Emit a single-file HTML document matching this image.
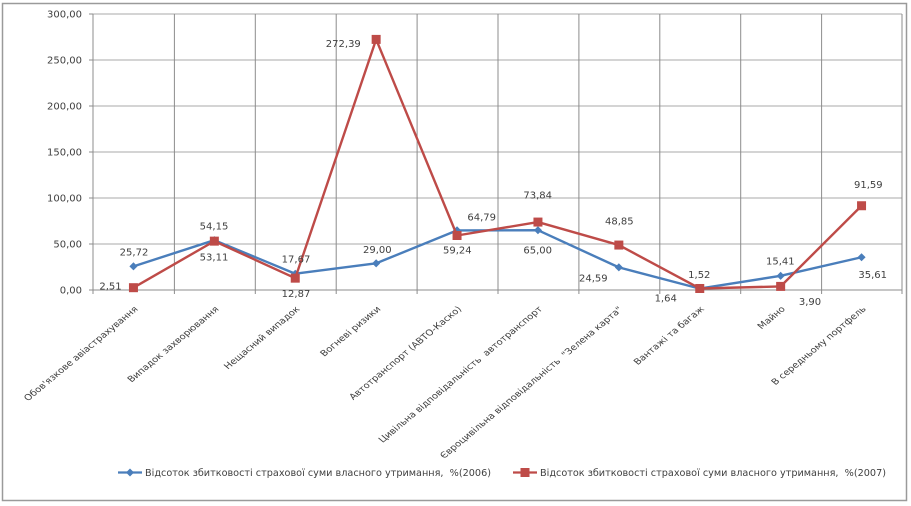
<!DOCTYPE html>
<html><head><meta charset="utf-8"><style>
html,body{margin:0;padding:0;background:#fff;}
svg{display:block;}
text{font-family:"DejaVu Sans","Liberation Sans",sans-serif;fill:#404040;}
</style></head><body>
<svg width="911" height="506" viewBox="0 0 911 506" xmlns="http://www.w3.org/2000/svg">
<rect x="2.5" y="3.5" width="904" height="497" fill="#fff" stroke="#9a9a9a" stroke-width="1.5"/>
<!-- horizontal gridlines -->
<g stroke="#a8a8a8" stroke-width="1">
<line x1="93" y1="14" x2="902" y2="14"/>
<line x1="93" y1="60" x2="902" y2="60"/>
<line x1="93" y1="106" x2="902" y2="106"/>
<line x1="93" y1="152" x2="902" y2="152"/>
<line x1="93" y1="198" x2="902" y2="198"/>
<line x1="93" y1="244" x2="902" y2="244"/>
</g>
<!-- vertical gridlines -->
<g stroke="#8c8c8c" stroke-width="1">
<line x1="174.4" y1="14" x2="174.4" y2="294"/>
<line x1="255.3" y1="14" x2="255.3" y2="294"/>
<line x1="336.2" y1="14" x2="336.2" y2="294"/>
<line x1="417.1" y1="14" x2="417.1" y2="294"/>
<line x1="498" y1="14" x2="498" y2="294"/>
<line x1="578.9" y1="14" x2="578.9" y2="294"/>
<line x1="659.8" y1="14" x2="659.8" y2="294"/>
<line x1="740.7" y1="14" x2="740.7" y2="294"/>
<line x1="821.6" y1="14" x2="821.6" y2="294"/>
<line x1="902" y1="14" x2="902" y2="294"/>
</g>
<!-- axes -->
<g stroke="#8c8c8c" stroke-width="1">
<line x1="93" y1="14" x2="93" y2="294"/>
<line x1="89" y1="290" x2="902" y2="290"/>
<line x1="89" y1="14" x2="93" y2="14"/>
<line x1="89" y1="60" x2="93" y2="60"/>
<line x1="89" y1="106" x2="93" y2="106"/>
<line x1="89" y1="152" x2="93" y2="152"/>
<line x1="89" y1="198" x2="93" y2="198"/>
<line x1="89" y1="244" x2="93" y2="244"/>
</g>
<!-- y labels -->
<g font-size="10" text-anchor="end">
<text x="82" y="17.6">300,00</text>
<text x="82" y="63.6">250,00</text>
<text x="82" y="109.6">200,00</text>
<text x="82" y="155.6">150,00</text>
<text x="82" y="201.6">100,00</text>
<text x="82" y="247.6">50,00</text>
<text x="82" y="293.6">0,00</text>
</g>
<!-- blue series -->
<polyline fill="none" stroke="#4a7ebb" stroke-width="2.4" stroke-linejoin="round" points="133.45,266.34 214.35,240.18 295.25,273.74 376.15,263.32 457.05,230.39 537.95,230.2 618.85,267.38 699.75,288.6 780.65,275.82 861.55,257.24"/>
<g fill="#4a7ebb">
<polygon points="133.45,262.3 137.5,266.34 133.45,270.4 129.4,266.34"/>
<polygon points="214.35,236.1 218.4,240.18 214.35,244.2 210.3,240.18"/>
<polygon points="295.25,269.7 299.3,273.74 295.25,277.8 291.2,273.74"/>
<polygon points="376.15,259.3 380.2,263.32 376.15,267.4 372.1,263.32"/>
<polygon points="457.05,226.3 461.1,230.39 457.05,234.4 453,230.39"/>
<polygon points="537.95,226.1 542,230.2 537.95,234.2 533.9,230.2"/>
<polygon points="618.85,263.3 622.9,267.38 618.85,271.4 614.8,267.38"/>
<polygon points="699.75,284.6 703.8,288.6 699.75,292.6 695.7,288.6"/>
<polygon points="780.65,271.8 784.7,275.82 780.65,279.9 776.6,275.82"/>
<polygon points="861.55,253.2 865.6,257.24 861.55,261.3 857.5,257.24"/>
</g>
<!-- red series -->
<polyline fill="none" stroke="#be4b48" stroke-width="2.4" stroke-linejoin="round" points="133.45,287.69 214.35,241.14 295.25,278.16 376.15,39.4 457.05,235.5 537.95,222.07 618.85,245.06 699.75,288.49 780.65,286.41 861.55,205.74"/>
<g fill="#be4b48">
<rect x="128.95" y="283.19" width="9" height="9"/>
<rect x="209.85" y="236.64" width="9" height="9"/>
<rect x="290.75" y="273.66" width="9" height="9"/>
<rect x="371.65" y="34.9" width="9" height="9"/>
<rect x="452.55" y="231" width="9" height="9"/>
<rect x="533.45" y="217.57" width="9" height="9"/>
<rect x="614.35" y="240.56" width="9" height="9"/>
<rect x="695.25" y="283.99" width="9" height="9"/>
<rect x="776.15" y="281.91" width="9" height="9"/>
<rect x="857.05" y="201.24" width="9" height="9"/>
</g>
<!-- data labels -->
<g font-size="10" text-anchor="middle">
<text x="134" y="255.6">25,72</text>
<text x="214" y="229.6">54,15</text>
<text x="296" y="262.6">17,67</text>
<text x="377.3" y="252.9">29,00</text>
<text x="481.7" y="220.3">64,79</text>
<text x="537.7" y="253.6">65,00</text>
<text x="593.3" y="281.3">24,59</text>
<text x="699.3" y="277.9">1,52</text>
<text x="780.3" y="264.6">15,41</text>
<text x="872.7" y="277.9">35,61</text>
<text x="110.5" y="289.3">2,51</text>
<text x="214" y="260.3">53,11</text>
<text x="296" y="296.9">12,87</text>
<text x="343.3" y="46.9">272,39</text>
<text x="457.3" y="253.6">59,24</text>
<text x="537.7" y="198.6">73,84</text>
<text x="619.3" y="224.6">48,85</text>
<text x="665.7" y="301.3">1,64</text>
<text x="810" y="305">3,90</text>
<text x="868.3" y="187.9">91,59</text>
</g>
<!-- category labels -->
<g font-size="8.4" text-anchor="end">
<text transform="translate(138.5,309.5) scale(1.2,1) rotate(-45)">Обов'язкове авіастрахування</text>
<text transform="translate(219.4,309.5) scale(1.2,1) rotate(-45)">Випадок захворювання</text>
<text transform="translate(300.3,309.5) scale(1.2,1) rotate(-45)">Нещасний випадок</text>
<text transform="translate(381.2,309.5) scale(1.2,1) rotate(-45)">Вогневі ризики</text>
<text transform="translate(462.1,309.5) scale(1.2,1) rotate(-45)">Автотранспорт (АВТО-Каско)</text>
<text transform="translate(543,309.5) scale(1.2,1) rotate(-45)" xml:space="preserve">Цивільна відповідальність  автотранспорт</text>
<text transform="translate(623,310) scale(1.2,1) rotate(-45)" xml:space="preserve">Євроцивільна відповідальність  "Зелена карта"</text>
<text transform="translate(704.8,309.5) scale(1.2,1) rotate(-45)">Вантажі та багаж</text>
<text transform="translate(785.7,309.5) scale(1.2,1) rotate(-45)">Майно</text>
<text transform="translate(866.6,309.5) scale(1.2,1) rotate(-45)">В середньому портфель</text>
</g>
<!-- legend -->
<line x1="118" y1="472.5" x2="142" y2="472.5" stroke="#4a7ebb" stroke-width="2.2"/>
<polygon points="130,468.5 134,472.5 130,476.5 126,472.5" fill="#4a7ebb"/>
<text x="145" y="476" font-size="9.8" textLength="346" lengthAdjust="spacingAndGlyphs" xml:space="preserve">Відсоток збитковості страхової суми власного утримання,  %(2006)</text>
<line x1="513" y1="472.5" x2="537" y2="472.5" stroke="#be4b48" stroke-width="2.2"/>
<rect x="520.5" y="468" width="9" height="9" fill="#be4b48"/>
<text x="540" y="476" font-size="9.8" textLength="346" lengthAdjust="spacingAndGlyphs" xml:space="preserve">Відсоток збитковості страхової суми власного утримання,  %(2007)</text>
</svg>
</body></html>
